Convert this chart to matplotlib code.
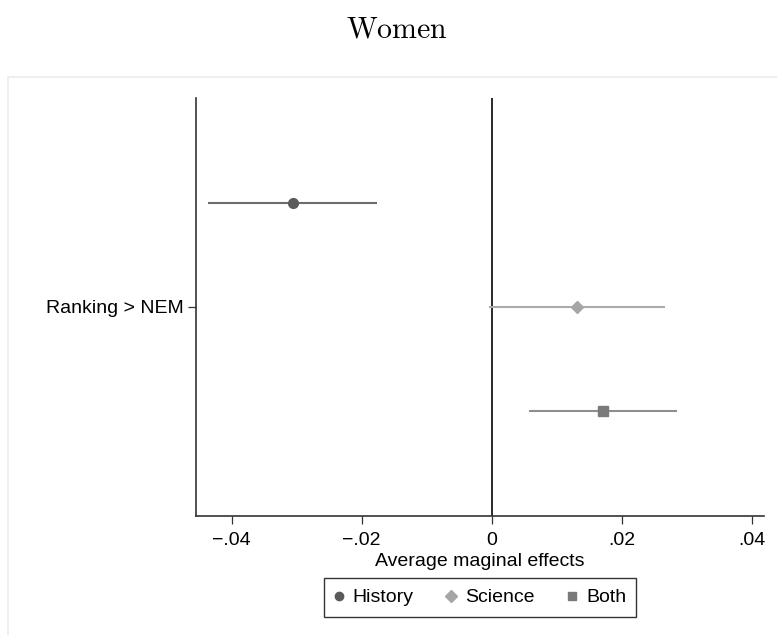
import numpy as np
import matplotlib.pyplot as plt
from matplotlib.lines import Line2D
from matplotlib.patches import Rectangle

plt.rcParams['font.family'] = ['Liberation Sans', 'DejaVu Sans']
plt.rcParams['mathtext.fontset'] = 'cm'

# средние предельные эффекты и доверительные интервалы
groups = ['History', 'Science', 'Both']
effects = [-0.0306, 0.0131, 0.0171]
ci_low = [-0.0436, -0.0004, 0.0057]
ci_high = [-0.0176, 0.0267, 0.0285]
row_pos = [0.75, 1.0, 1.25]

markers = ['o', 'D', 's']
marker_colors = ['#5a5a5a', '#a6a6a6', '#7a7a7a']
line_colors = ['#6c6c6c', '#ababab', '#8e8e8e']

xticks = [-0.04, -0.02, 0, 0.02, 0.04]
xtick_labels = ['\u2212.04', '\u2212.02', '0', '.02', '.04']

fig = plt.figure(figsize=(7.77, 6.35), dpi=100)

# светлая рамка вокруг области графика
fig.patches.append(Rectangle((8 / 777, -0.01), 1.0, 1 - 77 / 635 + 0.01,
                             transform=fig.transFigure, fill=False,
                             edgecolor='#ececec', linewidth=1.2))

ax = fig.add_axes([0.2519, 0.1879, 0.9833 - 0.2519, 0.8452 - 0.1879])

for i in range(len(groups)):
    ax.plot([ci_low[i], ci_high[i]], [row_pos[i], row_pos[i]],
            color=line_colors[i], linewidth=1.5, solid_capstyle='butt', zorder=2)
    ax.plot(effects[i], row_pos[i], marker=markers[i], markersize=7 if markers[i] != 'D' else 6.5,
            color=marker_colors[i], linestyle='none', zorder=3)

ax.axvline(0, color='#2a2a2a', linewidth=1.4, zorder=1)

ax.set_xlim(-0.04554, 0.0419)
ax.set_ylim(1.5, 0.5)

ax.set_xticks(xticks)
ax.set_xticklabels(xtick_labels)
ax.set_yticks([1.0])
ax.set_yticklabels(['Ranking > NEM'])
ax.tick_params(axis='both', labelsize=14, length=5.5, width=0.9, color='#333333')
ax.tick_params(axis='x', pad=6)
ax.tick_params(axis='y', pad=3)

for side in ['top', 'right']:
    ax.spines[side].set_visible(False)
for side in ['left', 'bottom']:
    ax.spines[side].set_color('#333333')
    ax.spines[side].set_linewidth(1.2)

ax.set_xlabel('Average maginal effects', fontsize=14, labelpad=3)

handles = [Line2D([], [], marker=markers[i], color=marker_colors[i], linestyle='none',
                  markersize=6 if markers[i] != 'D' else 6.5) for i in range(len(groups))]
leg = fig.legend(handles, groups, loc='center', bbox_to_anchor=(480 / 777, 1 - 597.5 / 635),
                 ncol=3, fontsize=14, frameon=True, fancybox=False, edgecolor='black',
                 handlelength=0.5, handletextpad=0.45, columnspacing=1.7, borderpad=0.53)
leg.get_frame().set_linewidth(1.0)

fig.text(397 / 777, 1 - 29 / 635, r'$\mathrm{Women}$', ha='center', va='center', fontsize=21.5)

fig.savefig('out.png', dpi=100, facecolor='white')
